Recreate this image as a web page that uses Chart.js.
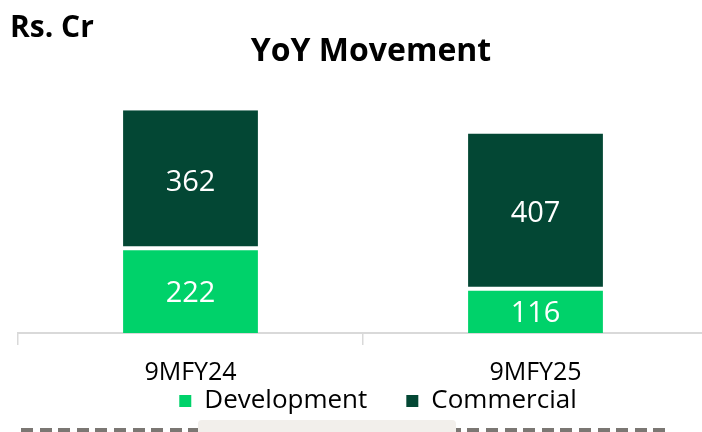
<!DOCTYPE html>
<html>
<head>
<meta charset="utf-8">
<script src="https://cdn.jsdelivr.net/npm/chart.js@4.4.1/dist/chart.umd.min.js"></script>
<style>
  html, body { margin: 0; padding: 0; background: #fff; overflow: hidden; }
  body { width: 702px; height: 432px; position: relative; }
  #wrap { position: absolute; left: 0; top: 0; width: 750px; height: 432px; }
  #unit { position: absolute; left: 10px; top: 11px; font: bold 30px "Open Sans"; line-height: 29px; color: #000; }
  #dash { position: absolute; left: 21px; top: 428px; width: 648px; height: 4px;
          background: repeating-linear-gradient(to right, #7b7773 0 12px, transparent 12px 18.6px); }
  #note { position: absolute; left: 198px; top: 420px; width: 258px; height: 12px;
          background: #f2efeb; border-radius: 4px 4px 0 0; }
</style>
</head>
<body>
<div id="wrap"><canvas id="chart" width="750" height="432"></canvas></div>
<div id="unit">Rs. Cr</div>
<div id="dash"></div>
<div id="note"></div>
<script>
const categories = ['9MFY24', '9MFY25'];
const development = [222, 116];
const commercial = [362, 407];

// values written in the middle of each stacked segment
const segmentLabels = {
    id: 'segmentLabels',
    afterDatasetsDraw(chart) {
        const ctx = chart.ctx;
        ctx.save();
        ctx.fillStyle = '#ffffff';
        ctx.font = '29px "Open Sans"';
        ctx.textAlign = 'center';
        ctx.textBaseline = 'middle';
        chart.data.datasets.forEach((ds, i) => {
            chart.getDatasetMeta(i).data.forEach((bar, j) => {
                const { x, y, base } = bar.getProps(['x', 'y', 'base'], true);
                ctx.fillText(ds.data[j], x, (y + base) / 2 + 3);
            });
        });
        ctx.restore();
    }
};

// x labels sit under the legend's top edge in the original, so the axis box is
// kept short for layout and stretched back afterwards; title/legend nudged right
const nudge = {
    id: 'nudge',
    afterLayout(chart) {
        const x = chart.scales.x;
        x.bottom = x.top + 58;
        chart.titleBlock.left += 8;
        chart.titleBlock.right += 8;
        chart.legend.left += 15;
        chart.legend.right += 15;
    }
};

new Chart(document.getElementById('chart'), {
    type: 'bar',
    data: {
        labels: categories,
        datasets: [
            {
                label: 'Development',
                data: development,
                backgroundColor: '#00d26a',
                borderColor: '#ffffff',
                borderWidth: { top: 2, bottom: 0, left: 0, right: 0 },
                borderSkipped: false
            },
            {
                label: 'Commercial',
                data: commercial,
                backgroundColor: '#034734',
                borderColor: '#ffffff',
                borderWidth: { top: 0, bottom: 2, left: 0, right: 0 },
                borderSkipped: false
            }
        ]
    },
    options: {
        responsive: false,
        maintainAspectRatio: false,
        animation: false,
        devicePixelRatio: 1,
        categoryPercentage: 1,
        barPercentage: 0.391,
        layout: { padding: { left: 18, right: 42, top: 0, bottom: 8 } },
        plugins: {
            title: {
                display: true,
                text: 'YoY Movement',
                color: '#000',
                font: { family: 'Open Sans', size: 32, weight: 'bold', lineHeight: 1.2 },
                padding: { top: 33, bottom: 6 }
            },
            legend: {
                position: 'bottom',
                labels: {
                    color: '#000',
                    font: { family: 'Open Sans', size: 26 },
                    boxWidth: 12,
                    boxHeight: 12,
                    padding: 39,
                    generateLabels(chart) {
                        return chart.data.datasets.map((ds, i) => ({
                            text: ds.label,
                            fillStyle: ds.backgroundColor,
                            strokeStyle: ds.backgroundColor,
                            lineWidth: 0,
                            hidden: false,
                            datasetIndex: i
                        }));
                    }
                }
            },
            tooltip: { enabled: false }
        },
        scales: {
            x: {
                stacked: true,
                afterFit(scale) { scale.height = 16; },
                grid: {
                    display: true,
                    drawOnChartArea: false,
                    drawTicks: true,
                    tickLength: 12,
                    color: '#d9d9d9',
                    lineWidth: 1.5
                },
                border: { display: true, color: '#d9d9d9', width: 2 },
                ticks: {
                    color: '#000',
                    font: { family: 'Open Sans', size: 25 },
                    padding: 13
                }
            },
            y: {
                stacked: true,
                display: false,
                min: 0,
                max: 670
            }
        }
    },
    plugins: [segmentLabels, nudge]
});
</script>
</body>
</html>
